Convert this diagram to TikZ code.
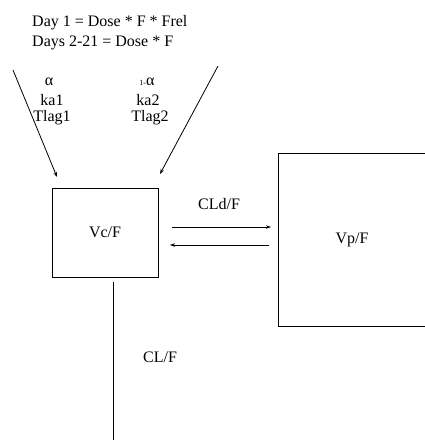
\documentclass[tikz,border=0pt]{standalone}
\usepackage{fontspec}
\setmainfont{Liberation Serif}
\usetikzlibrary{arrows.meta}
\begin{document}
\begin{tikzpicture}[x=1pt,y=-1pt,
  lbl/.style={inner sep=0pt,font=\fontsize{16}{18}\selectfont},
  comp/.style={draw,line width=0.8pt,inner sep=0pt},
  arr/.style={line width=0.8pt,-{Stealth[length=5pt,width=3.5pt]}},
  ln/.style={line width=0.8pt}]
\useasboundingbox (0,0) rectangle (425,440);
\node[lbl,anchor=west] (d1) at (32,23) {Day 1 = Dose * F * Frel};
\node[lbl,anchor=west] (d2) at (32,43) {Days 2-21 = Dose * F};
\node[lbl] (a1) at (49,82) {α};
\node[lbl] (k1) at (52,100) {ka1};
\node[lbl] (t1) at (52,118) {Tlag1};
\node[lbl] (a2) at (147,82) {{\fontsize{8}{9}\selectfont 1-}α};
\node[lbl] (k2) at (148,100) {ka2};
\node[lbl] (t2) at (150,118) {Tlag2};
\node[comp,minimum width=106pt,minimum height=89pt,lbl] (Vc) at (105,232.5) {Vc/F};
\node[comp,minimum width=148pt,minimum height=173pt,lbl] (Vp) at (352,239.5) {Vp/F};
\coordinate (s1) at (13,70);
\coordinate (e1) at (57,177);
\coordinate (s2) at (218,66);
\coordinate (e2) at (160,174);
\draw[arr] (s1) -- (e1);
\draw[arr] (s2) -- (e2);
\coordinate (f1) at (172,227);
\coordinate (f2) at (271,227);
\coordinate (b1) at (269,245);
\coordinate (b2) at (170,245);
\draw[arr] (f1) -- (f2);
\draw[arr] (b1) -- (b2);
\node[lbl] (cld) at (219,204) {CLd/F};
\coordinate (c1) at (113,282);
\coordinate (c2) at (113,440);
\draw[ln] (c1) -- (c2);
\node[lbl] (cl) at (160,357) {CL/F};
\end{tikzpicture}
\end{document}
